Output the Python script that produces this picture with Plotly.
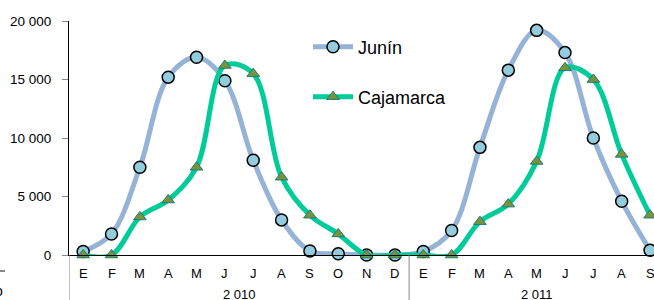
import plotly.graph_objects as go

months = ["E", "F", "M", "A", "M", "J", "J", "A", "S", "O", "N", "D",
          "E", "F", "M", "A", "M", "J", "J", "A", "S"]
years = ["2 010", "2 011"]
junin = [300, 1800, 7500, 15200, 16900, 14900, 8100, 3000, 350, 100, 0, 0,
         300, 2100, 9200, 15800, 19200, 17300, 10000, 4600, 400]
cajamarca = [0, 0, 3250, 4700, 7500, 16200, 15500, 6650, 3400, 1800, 0, 0,
             0, 0, 2850, 4350, 8000, 16000, 15000, 8600, 3400]
y_ticks = [0, 5000, 10000, 15000, 20000]
y_ticktext = ["0", "5 000", "10 000", "15 000", "20 000"]

x = list(range(len(months)))

fig = go.Figure()
fig.add_trace(go.Scatter(
    x=x, y=junin, name="Junín", mode="lines+markers",
    line=dict(color="#95B3D7", width=5, shape="spline", smoothing=1),
    marker=dict(symbol="circle", size=12, color="#93CDDD",
                line=dict(color="#000000", width=1.5)),
    cliponaxis=False, legend="legend", showlegend=True))
fig.add_trace(go.Scatter(
    x=x, y=cajamarca, name="Cajamarca", mode="lines+markers",
    line=dict(color="#00CC99", width=5, shape="spline", smoothing=1),
    marker=dict(symbol="triangle-up", size=11, color="#77933C",
                line=dict(color="#1F7B77", width=1)),
    cliponaxis=False, legend="legend2", showlegend=True))

L, T, B = 69, 21, 45
W, H = 654, 300
pw = W - L
ph = H - T - B

fig.update_layout(
    width=W, height=H,
    showlegend=True,
    margin=dict(l=L, r=0, t=T, b=B, autoexpand=False),
    paper_bgcolor="white", plot_bgcolor="white",
    font=dict(family="Liberation Sans, Arial, sans-serif", color="#000000"),
    legend=dict(x=(308 - L) / pw, y=(255 - 47) / ph, xanchor="left", yanchor="middle",
                font=dict(size=18), bgcolor="rgba(0,0,0,0)", itemwidth=40),
    legend2=dict(x=(308 - L) / pw, y=(255 - 97) / ph, xanchor="left", yanchor="middle",
                 font=dict(size=18), bgcolor="rgba(0,0,0,0)", itemwidth=40),
    xaxis=dict(range=[-0.5, 20.14], tickmode="array", tickvals=x, ticktext=months,
               showgrid=False, zeroline=False, showline=True, linecolor="#000000",
               linewidth=1, ticks="", showticklabels=False, automargin=False),
    yaxis=dict(range=[0, 20000], tickmode="array", tickvals=y_ticks, ticktext=y_ticktext,
               showgrid=False, zeroline=False, showline=True, linecolor="#000000",
               linewidth=1, ticks="outside", ticklen=6, tickcolor="#888888",
               tickfont=dict(size=13.5), ticklabelstandoff=8, automargin=False),
)

# month labels (drawn as annotations so the last one, cut by the edge, still shows)
for xi, m in zip(x, months):
    fig.add_annotation(x=xi, xref="x", y=-(273 - 255) / ph, yref="paper",
                       text=m, showarrow=False, font=dict(size=13),
                       xanchor="center", yanchor="middle")
# group dividers below the axis
for xv in [-0.5, 11.5]:
    fig.add_shape(type="line", xref="x", yref="paper", x0=xv, x1=xv,
                  y0=0, y1=-B / ph, line=dict(color="#888888", width=1))
# year group labels
for xc, txt in [(5.5, years[0]), (16, years[1])]:
    fig.add_annotation(x=xc, xref="x", y=-(294 - 255) / ph, yref="paper",
                       text=txt, showarrow=False, font=dict(size=13),
                       xanchor="center", yanchor="middle")
# cropped remnants at left edge
fig.add_shape(type="line", xref="paper", yref="paper", x0=-L / pw, x1=(5 - L) / pw,
              y0=-(271 - 255) / ph, y1=-(271 - 255) / ph,
              line=dict(color="#888888", width=2))
fig.add_annotation(x=(5 - L) / pw, xref="paper", y=-(291 - 255) / ph, yref="paper",
                   text="o", showarrow=False, font=dict(size=14),
                   xanchor="right", yanchor="middle")

fig.write_html("out.html", config={"displayModeBar": False},
               post_script="document.body.style.margin='0px';")
